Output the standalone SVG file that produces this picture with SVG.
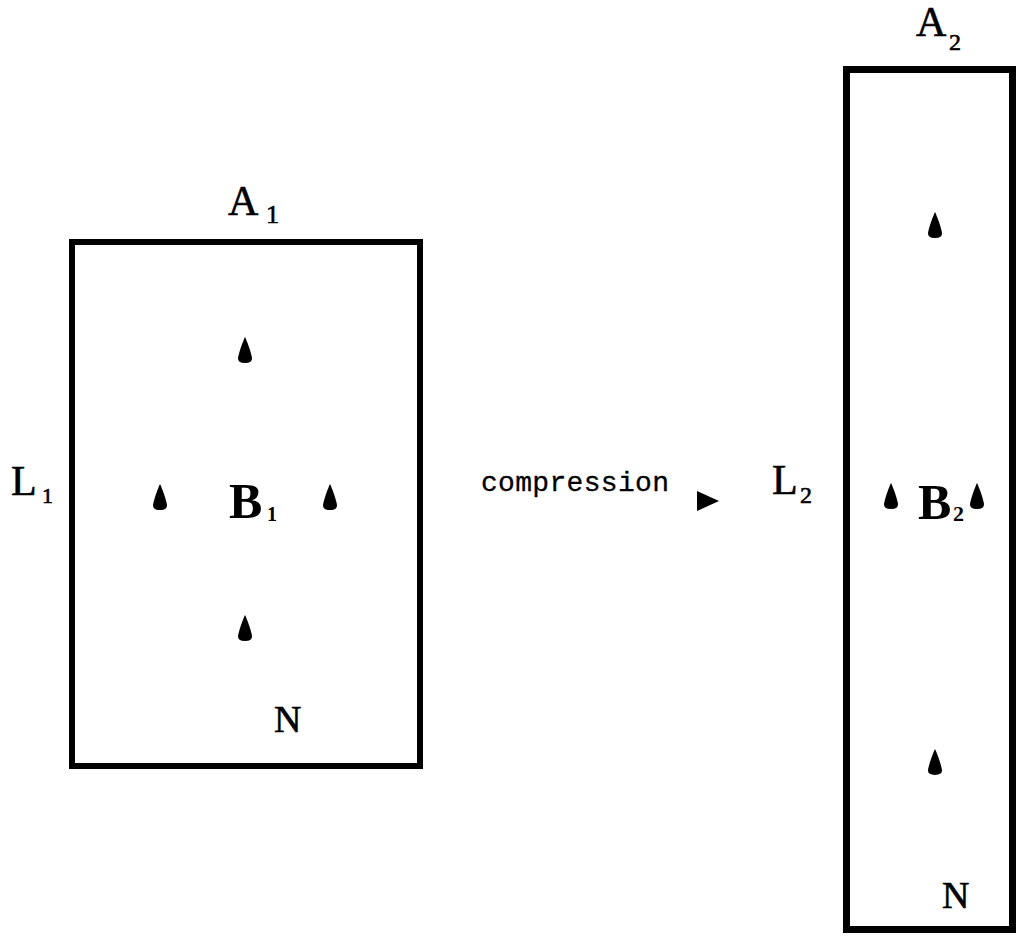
<svg xmlns="http://www.w3.org/2000/svg" width="1020" height="936" viewBox="0 0 1020 936">
<style>
.lbl{font-family:"Liberation Serif","DejaVu Serif",serif;fill:#000;stroke:#000;stroke-width:0.6}
.big{font-size:42px}
.bold{font-family:"Liberation Serif","DejaVu Serif",serif;font-weight:bold;fill:#000}
.box{fill:#fff;stroke:#000}
.mono{font-family:"Liberation Mono","DejaVu Sans Mono",monospace;font-size:28px;fill:#000;stroke:#000;stroke-width:0.3}
</style>
<defs>
<path id="drop" d="M0,-13 C2,-9 6,2 7,8 Q7.5,13 0,13 Q-7.5,13 -7,8 C-6,2 -2,-9 0,-13 Z" fill="#000"/>
</defs>
<rect width="1020" height="936" fill="#fff"/>
<g id="box1">
<rect class="box" x="72" y="242" width="348" height="524" stroke-width="6"/>
<text class="lbl big" x="228" y="215">A</text>
<text class="lbl" x="266" y="223" font-size="26">1</text>
<text class="lbl big" x="11" y="495">L</text>
<text class="lbl" x="42" y="503" font-size="22">1</text>
<text class="bold" x="229" y="518" font-size="50">B</text>
<text class="bold" x="267" y="521" font-size="20">1</text>
<text class="lbl" x="274" y="732" font-size="38">N</text>
<use href="#drop" x="245" y="350"/>
<use href="#drop" x="160" y="497"/>
<use href="#drop" x="330" y="497"/>
<use href="#drop" x="245" y="628"/>
</g>
<g id="box2">
<rect class="box" x="846.5" y="69.5" width="166" height="860" stroke-width="7"/>
<text class="lbl big" x="916" y="36">A</text>
<text class="lbl" x="949" y="50" font-size="24">2</text>
<text class="lbl big" x="772" y="494">L</text>
<text class="lbl" x="800" y="503" font-size="24">2</text>
<text class="bold" x="918" y="519" font-size="50">B</text>
<text class="bold" x="953" y="521" font-size="22">2</text>
<text class="lbl" x="942" y="908" font-size="38">N</text>
<use href="#drop" x="935" y="225"/>
<use href="#drop" x="891" y="496"/>
<use href="#drop" x="977" y="496"/>
<use href="#drop" x="935" y="762"/>
</g>
<g id="connectors">
<text class="mono" x="481" y="491" textLength="188" lengthAdjust="spacing">compression</text>
<polygon points="697,491 719,501 697,511" fill="#000"/>
</g>
</svg>
